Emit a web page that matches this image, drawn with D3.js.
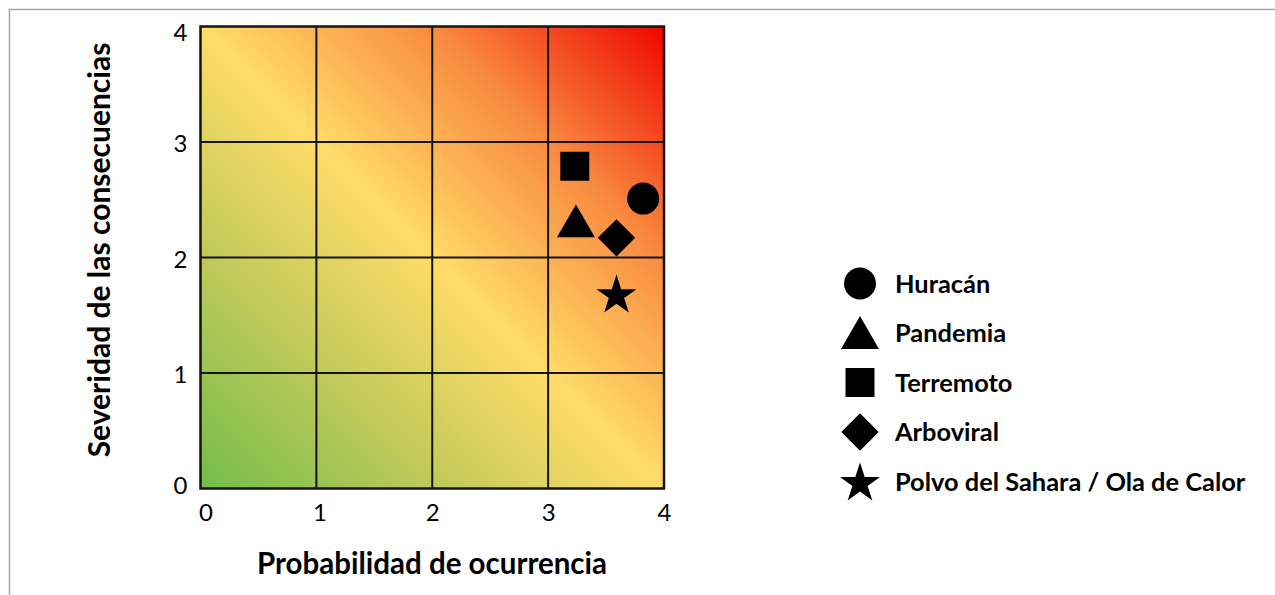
<!DOCTYPE html>
<html><head><meta charset="utf-8">
<script src="https://cdn.jsdelivr.net/npm/d3@7"></script>
<style>html,body{margin:0;padding:0;background:#fff;}svg{display:block;}</style>
</head><body>
<svg id="c" width="1275" height="595"></svg>
<script>
// ---- data ----
const riskNames = ["Huracán", "Pandemia", "Terremoto", "Arboviral", "Polvo del Sahara / Ola de Calor"];
const probability = [3.82, 3.24, 3.23, 3.59, 3.59];
const severity = [2.51, 2.27, 2.79, 2.17, 1.67];
const symbolKinds = ["circle", "triangle", "square", "diamond", "star"];
const xTicks = [0, 1, 2, 3, 4];
const yTicks = [0, 1, 2, 3, 4];
const xTitle = "Probabilidad de ocurrencia";
const yTitle = "Severidad de las consecuencias";

const svg = d3.select("#c");
const W = 1275, H = 595;
const plot = {x0: 200.5, x1: 664, y0: 26.5, y1: 488.5};
const x = d3.scaleLinear().domain([0, 4]).range([plot.x0, plot.x1]);
const y = d3.scaleLinear().domain([0, 4]).range([plot.y1, plot.y0]);

// outer frame
svg.append("path").attr("d", `M9.5,${H+5}V9.5H${W+5}`).attr("fill", "none")
  .attr("stroke", "#a6a6a6").attr("stroke-width", 1.5);

// gradient
const defs = svg.append("defs");
const g = defs.append("linearGradient").attr("id", "risk")
  .attr("gradientUnits", "userSpaceOnUse")
  .attr("x1", x(0)).attr("y1", y(0)).attr("x2", x(4)).attr("y2", y(4));
[[0, "#72bd4a"], [0.25, "#bdc95a"], [0.5, "#ffdc68"], [0.75, "#f98a40"], [1, "#ee0500"]]
  .forEach(([o, c]) => g.append("stop").attr("offset", o).attr("stop-color", c));

svg.append("rect").attr("x", x(0)).attr("y", y(4))
  .attr("width", x(4) - x(0)).attr("height", y(0) - y(4)).attr("fill", "url(#risk)");

// grid
const grid = svg.append("g").attr("stroke", "#141414").attr("stroke-width", 2);
xTicks.slice(1, -1).forEach(t => grid.append("line").attr("x1", x(t)).attr("x2", x(t)).attr("y1", y(0)).attr("y2", y(4)));
yTicks.slice(1, -1).forEach(t => grid.append("line").attr("y1", y(t)).attr("y2", y(t)).attr("x1", x(0)).attr("x2", x(4)));
svg.append("rect").attr("x", x(0)).attr("y", y(4))
  .attr("width", x(4) - x(0)).attr("height", y(0) - y(4))
  .attr("fill", "none").attr("stroke", "#141414").attr("stroke-width", 2.5);

// axes (labels only)
const font = "Lato, 'Open Sans', sans-serif";
const xAxis = svg.append("g").attr("transform", `translate(0,${plot.y1})`)
  .call(d3.axisBottom(x).tickValues(xTicks).tickSize(0).tickPadding(15).tickFormat(d3.format("d")));
const yAxis = svg.append("g").attr("transform", `translate(${plot.x0},0)`)
  .call(d3.axisLeft(y).tickValues(yTicks).tickSize(0).tickPadding(13).tickFormat(d3.format("d")));
[xAxis, yAxis].forEach(a => {
  a.select(".domain").remove();
  a.selectAll("text").attr("font-family", font).attr("font-size", 24).attr("fill", "#000");
});
xAxis.selectAll("text").attr("dy", "0.71em").attr("dx", d => d === 0 ? 5 : d === 1 ? 3 : 0);
yAxis.selectAll("text").attr("dy", d => d === 4 ? "0.6em" : d === 0 ? "0.2em" : "0.4em");

// titles
svg.append("text").attr("x", 432).attr("y", 574).attr("text-anchor", "middle")
  .attr("font-family", font).attr("font-weight", 700).attr("font-size", 29.5).text(xTitle);
svg.append("text").attr("transform", "translate(110,250) rotate(-90)").attr("text-anchor", "middle")
  .attr("font-family", font).attr("font-weight", 700).attr("font-size", 30).text(yTitle);

// symbols
const diamondType = {draw(ctx, size) { const r = Math.sqrt(size / 2); ctx.moveTo(0, -r); ctx.lineTo(r, 0); ctx.lineTo(0, r); ctx.lineTo(-r, 0); ctx.closePath(); }};
const types = {circle: d3.symbolCircle, triangle: d3.symbolTriangle, square: d3.symbolSquare, diamond: diamondType, star: d3.symbolStar};
const sizes = {circle: 804, triangle: 625, square: 841, diamond: 700, star: 495};
const sym = k => d3.symbol().type(types[k]).size(sizes[k])();

svg.append("g").selectAll("path").data(riskNames).join("path")
  .attr("transform", (d, i) => `translate(${x(probability[i])},${y(severity[i])})`)
  .attr("d", (d, i) => sym(symbolKinds[i])).attr("fill", "#000");

// legend
const legendY = d3.scalePoint().domain(riskNames).range([283.5, 481.5]);
const lg = svg.append("g");
const row = lg.selectAll("g").data(riskNames).join("g")
  .attr("transform", d => `translate(860,${legendY(d)})`);
row.append("path").attr("d", (d, i) => sym(symbolKinds[i]))
  .attr("transform", (d, i) => symbolKinds[i] === "triangle" ? "translate(0,5)" : symbolKinds[i] === "star" ? "translate(0,2)" : null)
  .attr("fill", "#000");
row.append("text").attr("x", 35).attr("dy", "0.36em")
  .attr("font-family", font).attr("font-weight", 700).attr("font-size", 25.4).text(d => d);
</script>
</body></html>
